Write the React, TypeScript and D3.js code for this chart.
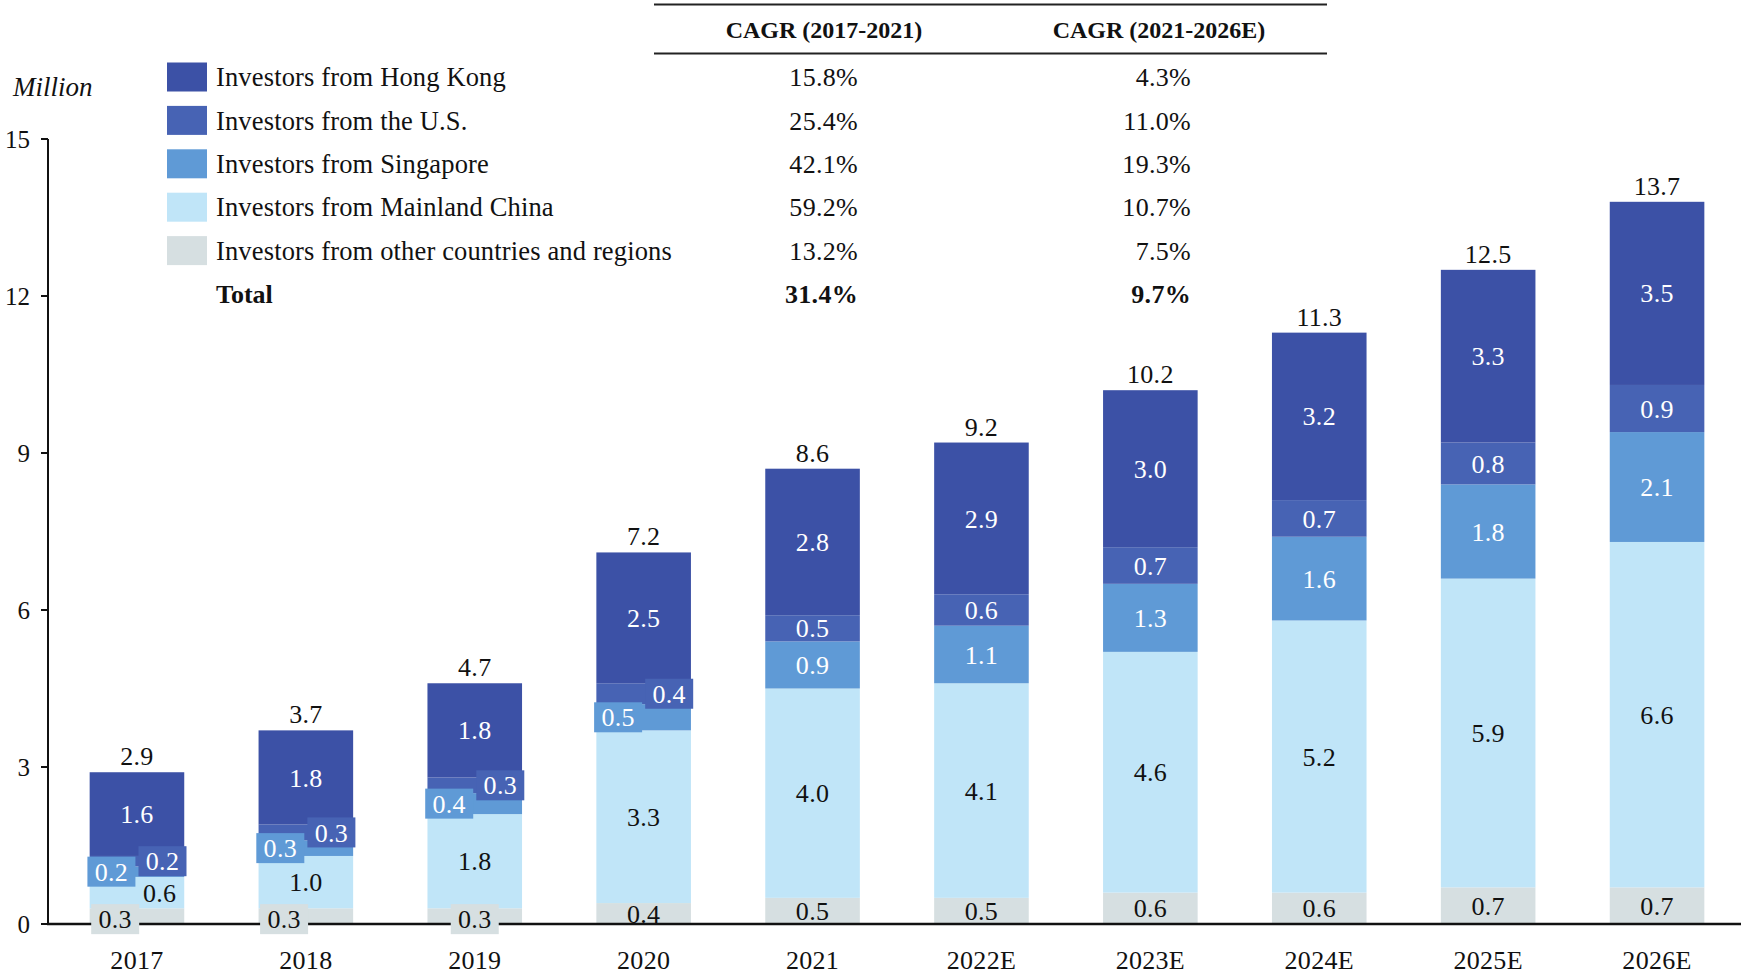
import React from "react";
import * as d3 from "d3";

const years = ["2017", "2018", "2019", "2020", "2021", "2022E", "2023E", "2024E", "2025E", "2026E"];
const others = [0.3, 0.3, 0.3, 0.4, 0.5, 0.5, 0.6, 0.6, 0.7, 0.7];
const mainland = [0.6, 1.0, 1.8, 3.3, 4.0, 4.1, 4.6, 5.2, 5.9, 6.6];
const singapore = [0.2, 0.3, 0.4, 0.5, 0.9, 1.1, 1.3, 1.6, 1.8, 2.1];
const us = [0.2, 0.3, 0.3, 0.4, 0.5, 0.6, 0.7, 0.7, 0.8, 0.9];
const hongKong = [1.6, 1.8, 1.8, 2.5, 2.8, 2.9, 3.0, 3.2, 3.3, 3.5];
const totals = [2.9, 3.7, 4.7, 7.2, 8.6, 9.2, 10.2, 11.3, 12.5, 13.7];

const legendLabels = [
  "Investors from Hong Kong",
  "Investors from the U.S.",
  "Investors from Singapore",
  "Investors from Mainland China",
  "Investors from other countries and regions",
];
const cagr1 = ["15.8%", "25.4%", "42.1%", "59.2%", "13.2%", "31.4%"];
const cagr2 = ["4.3%", "11.0%", "19.3%", "10.7%", "7.5%", "9.7%"];
const cagrHeaders = ["CAGR (2017-2021)", "CAGR (2021-2026E)"];
const yTicks = [0, 3, 6, 9, 12, 15];

const FONT = "'Liberation Serif', 'Times New Roman', serif";
const colors = {
  others: "#d6dfe1",
  mainland: "#c0e5f8",
  singapore: "#5f9ad6",
  us: "#4763b4",
  hk: "#3c51a6",
};

type Key = "others" | "mainland" | "singapore" | "us" | "hk";
const keys: Key[] = ["others", "mainland", "singapore", "us", "hk"];
const legendKeys: Key[] = ["hk", "us", "singapore", "mainland", "others"];

export default function App() {
  const W = 1746;
  const H = 979;
  const y0 = 924;
  const yTop = 139;
  const axisX = 48;

  const y = d3.scaleLinear().domain([0, 15]).range([y0, yTop]);
  const x = d3
    .scaleBand<string>()
    .domain(years)
    .range([52.5, 1741.5])
    .paddingInner(0.44)
    .paddingOuter(0.22);
  const bw = x.bandwidth();

  const table = years.map((yr, i) => ({
    year: yr,
    others: others[i],
    mainland: mainland[i],
    singapore: singapore[i],
    us: us[i],
    hk: hongKong[i],
  }));
  const stack = d3.stack<any>().keys(keys)(table);

  const segLabels: any[] = [];
  stack.forEach((layer) => {
    const key = layer.key as Key;
    layer.forEach((d, i) => {
      const v = (table[i] as any)[key] as number;
      const cx = (x(years[i]) as number) + bw / 2;
      let cy = (y(d[0]) + y(d[1])) / 2;
      let dx = 0;
      let boxed = false;
      if (key === "singapore" && i < 4) {
        dx = -0.27 * bw;
        boxed = true;
      }
      if (key === "us" && i < 4) {
        dx = 0.27 * bw;
        boxed = true;
      }
      if (key === "mainland" && v < 0.8) dx = 0.24 * bw;
      if (key === "others") {
        if (i < 2) dx = -0.23 * bw;
        if (i < 3) {
          boxed = true;
          cy += 3;
        }
      }
      const white = key === "hk" || key === "us" || key === "singapore";
      segLabels.push({ key, v, cx: cx + dx, cy, boxed, white });
    });
  });

  const legendY = (k: number) => 77 + k * 43.4;

  return (
    <svg width={W} height={H} style={{ display: "block", position: "absolute", left: 0, top: 0, background: "#fff" }}>
      <rect x={0} y={0} width={W} height={H} fill="#fff" />
      {/* bars */}
      {stack.map((layer) => (
        <g key={layer.key}>
          {layer.map((d, i) => (
            <rect
              key={i}
              x={x(years[i])}
              y={y(d[1])}
              width={bw}
              height={y(d[0]) - y(d[1])}
              fill={colors[layer.key as Key]}
            />
          ))}
        </g>
      ))}
      {/* axes */}
      <line x1={axisX} x2={axisX} y1={yTop} y2={y0} stroke="#111" strokeWidth={2} />
      <line x1={axisX - 1} x2={1741} y1={y0} y2={y0} stroke="#111" strokeWidth={2.5} />
      {yTicks.map((t) => (
        <g key={t}>
          <line x1={axisX - 7} x2={axisX} y1={y(t)} y2={y(t)} stroke="#111" strokeWidth={2} />
          <text x={30} y={y(t)} dy="0.35em" textAnchor="end" fontFamily={FONT} fontSize={25} fill="#111">
            {t}
          </text>
        </g>
      ))}
      {/* segment labels */}
      {segLabels.map((l, j) => (
        <g key={j}>
          {l.boxed && (
            <rect x={l.cx - 24} y={l.cy - 15} width={48} height={30} fill={colors[l.key as Key]} />
          )}
          <text
            x={l.cx}
            y={l.cy}
            dy="0.35em"
            textAnchor="middle"
            fontFamily={FONT}
            fontSize={26}
            letterSpacing={0.3}
            fill={l.white ? "#ffffff" : "#111"}
          >
            {l.v.toFixed(1)}
          </text>
        </g>
      ))}
      {/* totals */}
      {totals.map((t, i) => {
        const top = y(d3.sum(keys, (k) => (table[i] as any)[k]));
        return (
          <text
            key={i}
            x={(x(years[i]) as number) + bw / 2}
            y={top - 7}
            textAnchor="middle"
            fontFamily={FONT}
            fontSize={26}
            letterSpacing={0.3}
            fill="#111"
          >
            {t.toFixed(1)}
          </text>
        );
      })}
      {years.map((yr) => (
        <text
          key={yr}
          x={(x(yr) as number) + bw / 2}
          y={960}
          dy="0.35em"
          textAnchor="middle"
          fontFamily={FONT}
          fontSize={26}
          letterSpacing={0.3}
          fill="#111"
        >
          {yr}
        </text>
      ))}
      <text x={13} y={87} dy="0.35em" fontFamily={FONT} fontStyle="italic" fontSize={27} fill="#111">
        Million
      </text>
      {/* legend */}
      {legendKeys.map((k, i) => (
        <g key={k}>
          <rect x={167} y={legendY(i) - 14.5} width={40} height={29} fill={colors[k]} />
          <text x={216} y={legendY(i)} dy="0.35em" fontFamily={FONT} fontSize={26.5} letterSpacing={0.15} fill="#111">
            {legendLabels[i]}
          </text>
        </g>
      ))}
      <text x={216} y={legendY(5)} dy="0.35em" fontFamily={FONT} fontSize={26} fontWeight="bold" fill="#111">
        Total
      </text>
      {/* CAGR table */}
      <line x1={654} x2={1327} y1={4.5} y2={4.5} stroke="#222" strokeWidth={1.8} />
      <line x1={654} x2={1327} y1={53.5} y2={53.5} stroke="#222" strokeWidth={1.8} />
      <text x={824} y={30} dy="0.35em" textAnchor="middle" fontFamily={FONT} fontSize={24} fontWeight="bold" fill="#111">
        {cagrHeaders[0]}
      </text>
      <text x={1159} y={30} dy="0.35em" textAnchor="middle" fontFamily={FONT} fontSize={24} fontWeight="bold" fill="#111">
        {cagrHeaders[1]}
      </text>
      {cagr1.map((c, i) => (
        <text
          key={"a" + i}
          x={858}
          y={legendY(i)}
          dy="0.35em"
          textAnchor="end"
          fontFamily={FONT}
          fontSize={26}
          letterSpacing={0.3}
          fontWeight={i === 5 ? "bold" : "normal"}
          fill="#111"
        >
          {c}
        </text>
      ))}
      {cagr2.map((c, i) => (
        <text
          key={"b" + i}
          x={1191}
          y={legendY(i)}
          dy="0.35em"
          textAnchor="end"
          fontFamily={FONT}
          fontSize={26}
          letterSpacing={0.3}
          fontWeight={i === 5 ? "bold" : "normal"}
          fill="#111"
        >
          {c}
        </text>
      ))}
    </svg>
  );
}
